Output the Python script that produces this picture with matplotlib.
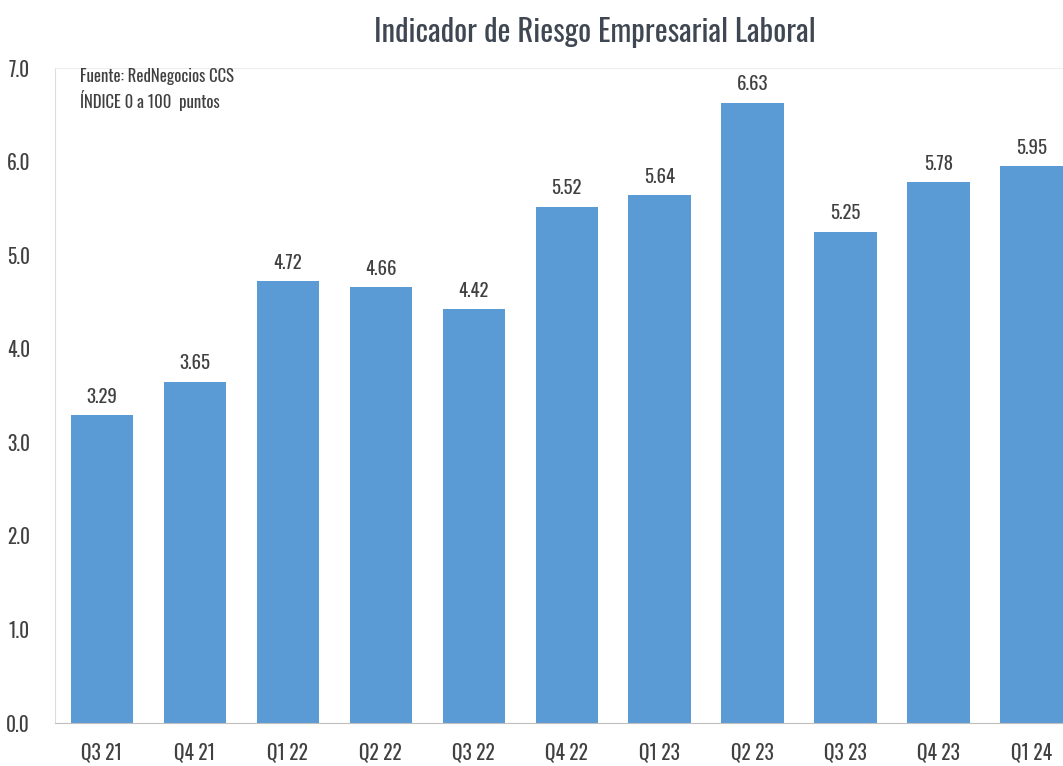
import matplotlib
matplotlib.use('Agg')
import matplotlib.pyplot as plt

plt.rcParams['font.family'] = ['Oswald', 'Roboto Condensed', 'Barlow Condensed', 'DejaVu Sans']
plt.rcParams['font.weight'] = 'light'

quarters = ['Q3 21', 'Q4 21', 'Q1 22', 'Q2 22', 'Q3 22', 'Q4 22',
            'Q1 23', 'Q2 23', 'Q3 23', 'Q4 23', 'Q1 24']
values = [3.29, 3.65, 4.72, 4.66, 4.42, 5.52, 5.64, 6.63, 5.25, 5.78, 5.95]
yticks = [0.0, 1.0, 2.0, 3.0, 4.0, 5.0, 6.0, 7.0]

fig = plt.figure(figsize=(10.63, 7.66), dpi=100)
ax = fig.add_axes([0.0517, 0.0561, 0.9483, 0.855])

x = range(len(quarters))
bars = ax.bar(x, values, width=0.67, color='#5B9BD5', zorder=2)
for b, v in zip(bars, values):
    ax.text(b.get_x() + b.get_width() / 2, v + 0.1, f'{v:.2f}',
            ha='center', va='bottom', fontsize=13.5, color='#404040')

ax.set_xlim(-0.505, 10.34)
ax.set_ylim(0, 7.0)
ax.set_yticks(yticks)
ax.set_yticklabels([f'{t:.1f}' for t in yticks])
ax.set_xticks(list(x))
ax.set_xticklabels(quarters)
ax.tick_params(axis='both', length=0, labelsize=14, labelcolor='#404040')
ax.tick_params(axis='x', pad=14)
ax.tick_params(axis='y', pad=18)

ax.spines['right'].set_visible(False)
ax.spines['top'].set_color('#eeeeee')
ax.spines['left'].set_color('#dddddd')
ax.spines['bottom'].set_color('#bfbfbf')

ax.text(0.025, 1.0, 'Fuente: RedNegocios CCS\nÍNDICE 0 a 100  puntos',
        transform=ax.transAxes, ha='left', va='top', fontsize=12,
        color='#404040', linespacing=1.3)

fig.text(0.56, 0.958, 'Indicador de Riesgo Empresarial Laboral',
         ha='center', va='center', fontsize=22, color='#3f4752')

fig.savefig('out.png', dpi=100)
